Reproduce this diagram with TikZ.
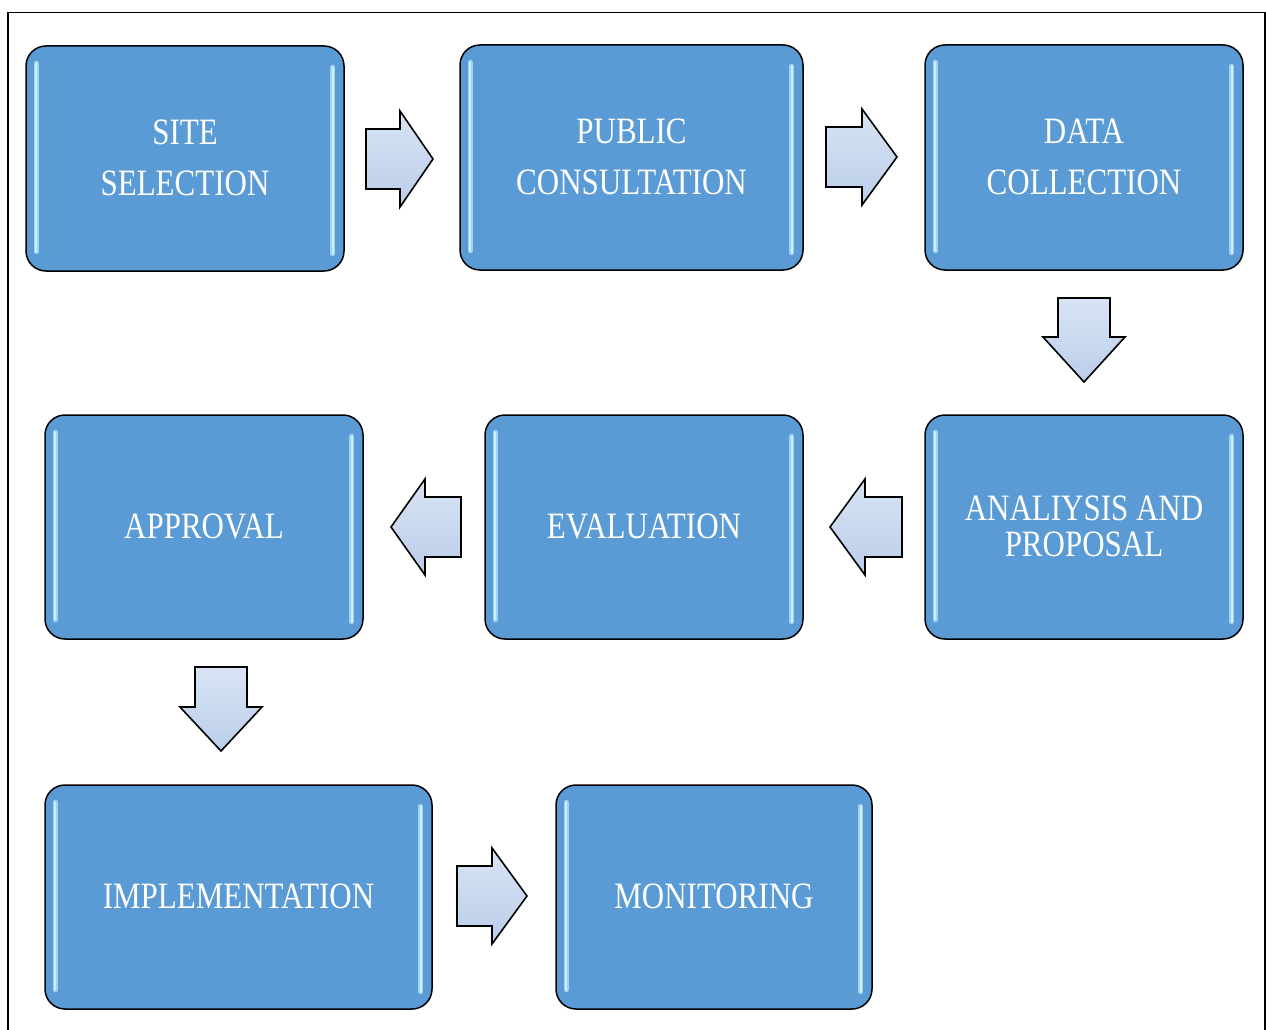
\documentclass[tikz,border=0pt]{standalone}
\usepackage{fontspec}
\setmainfont{Liberation Serif}
\usepackage{graphicx}
\begin{document}
\begin{tikzpicture}[x=1pt,y=-1pt,
  stepbox/.style={draw=black, line width=1.5pt, rounded corners=20pt,
    fill=boxblue, inner sep=0pt},
  steptext/.style={text=white, align=center, inner sep=0pt,
    font=\fontsize{31}{36}\selectfont},
  gloss/.style={line width=5pt, draw=glow, line cap=round},
  glosscore/.style={line width=2pt, draw=white!80!cyan, line cap=round},
  blockarrow/.style={draw=black, line width=1.6pt, line join=miter,
    top color=arrowlight, bottom color=arrowdark}]
\definecolor{boxblue}{HTML}{5B9BD5}
\definecolor{glow}{HTML}{9FD3F6}
\definecolor{arrowlight}{HTML}{D8E4F4}
\definecolor{arrowdark}{HTML}{BACDE9}

% page and outer frame
\useasboundingbox (0,0) rectangle (1266,1030);
\fill[white] (0,0) rectangle (1266,1030);
\draw[line width=1.3pt] (8,1032) -- (8,12.5) -- (1265,12.5) -- (1265,1032);

% one process step: name, centre, width, height, text
\newcommand{\procstep}[6]{%
  \node[stepbox, minimum width=#4, minimum height=#5] (#1) at (#2,#3) {};
  \draw[gloss] ([xshift=11pt,yshift=-18pt]#1.north west) -- ([xshift=11pt,yshift=20pt]#1.south west);
  \draw[glosscore] ([xshift=11pt,yshift=-18pt]#1.north west) -- ([xshift=11pt,yshift=20pt]#1.south west);
  \draw[gloss] ([xshift=-12pt,yshift=-22pt]#1.north east) -- ([xshift=-12pt,yshift=18pt]#1.south east);
  \draw[glosscore] ([xshift=-12pt,yshift=-22pt]#1.north east) -- ([xshift=-12pt,yshift=18pt]#1.south east);
  \node[steptext] (#1-label) at ([yshift=-3pt]#1.center)
    {\scalebox{1}[1.2]{\begin{tabular}{@{}c@{}}#6\end{tabular}}};
}

\procstep{site}{185}{158.5}{318}{225}{SITE\\[7pt]SELECTION}
\procstep{public}{631.5}{157.5}{343}{225}{PUBLIC\\[7pt]CONSULTATION}
\procstep{data}{1084}{157.5}{318}{225}{DATA\\[7pt]COLLECTION}
\procstep{analysis}{1084}{527}{318}{224}{ANALIYSIS AND\\[-6pt]PROPOSAL}
\procstep{eval}{644}{527}{318}{224}{EVALUATION}
\procstep{approval}{204}{527}{318}{224}{APPROVAL}
\procstep{impl}{238.5}{897}{387}{224}{IMPLEMENTATION}
\procstep{monitor}{714}{897}{316}{224}{MONITORING}

% block arrows between the steps
% horizontal: tail x, centre y, head base x, tip x
\newcommand{\harrow}[4]{%
  \path[blockarrow] (#1,#2-30) -- (#3,#2-30) -- (#3,#2-48) -- (#4,#2)
    -- (#3,#2+48) -- (#3,#2+30) -- (#1,#2+30) -- cycle;}
% down-pointing: centre x, top y, head base y, tip y
\newcommand{\darrow}[4]{%
  \path[blockarrow] (#1-26,#2) -- (#1+26,#2) -- (#1+26,#3) -- (#1+41,#3)
    -- (#1,#4) -- (#1-41,#3) -- (#1-26,#3) -- cycle;}

\harrow{366}{159}{400}{433}
\harrow{826}{157}{862}{897}
\darrow{1084}{298}{337}{382}
\harrow{902}{527}{865}{830}
\harrow{461}{527}{425}{391}
\darrow{221}{667}{707}{751}
\harrow{457}{896}{492}{527}
\end{tikzpicture}
\end{document}
